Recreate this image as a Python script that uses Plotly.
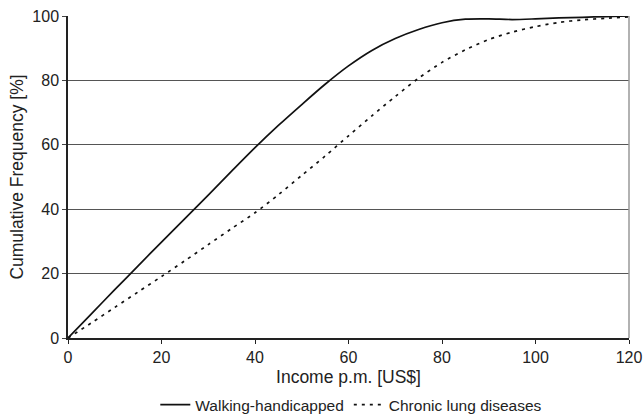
import plotly.graph_objects as go

income = [0, 5, 10, 15, 20, 25, 30, 35, 40, 45, 50, 55, 60, 65, 70, 75, 80, 85, 90, 95, 100, 105, 110, 115, 120]
walking = [0, 7.5, 15, 22.4, 29.8, 37.1, 44.4, 51.8, 59.1, 66, 72.5, 78.8, 84.5, 89.3, 93.0, 95.8, 97.9, 99.0, 99.1, 98.9, 99.1, 99.4, 99.6, 99.8, 100]
lung = [0, 4.7, 9.5, 14.3, 19.1, 24, 29, 34, 38.9, 44.5, 50.5, 56.5, 62.8, 69, 75, 80.7, 85.6, 89.5, 92.7, 95, 96.7, 98, 98.8, 99.3, 99.7]

x_ticks = [0, 20, 40, 60, 80, 100, 120]
y_ticks = [0, 20, 40, 60, 80, 100]

font_family = "Liberation Sans, Arial, sans-serif"

fig = go.Figure()
fig.add_trace(go.Scatter(x=income, y=walking, mode="lines", name="Walking-handicapped",
                         line=dict(color="#111111", width=1.7, shape="spline", smoothing=0.8)))
fig.add_trace(go.Scatter(x=income, y=lung, mode="lines", name="Chronic lung diseases",
                         line=dict(color="#111111", width=1.7, dash="3px,5px", shape="spline", smoothing=0.8)))

fig.add_shape(type="line", xref="paper", yref="paper", x0=1, x1=1, y0=0, y1=1,
              line=dict(color="#999999", width=1.5))

fig.update_layout(
    width=644, height=417,
    margin=dict(l=68, r=15, t=16, b=79, autoexpand=False),
    paper_bgcolor="white", plot_bgcolor="white",
    font=dict(family=font_family, color="#222222", size=16),
    showlegend=True,
    legend=dict(orientation="h", x=0.505, xanchor="center", y=-0.208, yanchor="middle",
                font=dict(size=15.5), itemwidth=30, traceorder="normal",
                bgcolor="rgba(0,0,0,0)"),
    xaxis=dict(range=[0, 120], tickvals=x_ticks, ticks="outside", ticklen=4, tickcolor="#222222",
               showline=True, linecolor="#222222", linewidth=1.5, showgrid=False, zeroline=False,
               automargin=False,
               title=dict(text="Income p.m. [US$]", font=dict(size=17.5), standoff=6),
               tickfont=dict(size=16)),
    yaxis=dict(range=[0, 100], tickvals=y_ticks, ticks="outside", ticklen=4, tickcolor="#444444",
               showline=True, linecolor="#222222", linewidth=1.5, showgrid=True, gridcolor="#555555",
               gridwidth=1.2, zeroline=False, automargin=False,
               title=dict(text="Cumulative Frequency [%]", font=dict(size=17.5), standoff=4),
               tickfont=dict(size=16)),
)

# remove the page's default body margin so the figure sits at the window's top-left corner
fig.write_html(
    "out.html",
    config={"displayModeBar": False},
    post_script="document.body.style.margin='0';document.body.style.overflow='hidden';"
                "document.documentElement.style.overflow='hidden';",
)
